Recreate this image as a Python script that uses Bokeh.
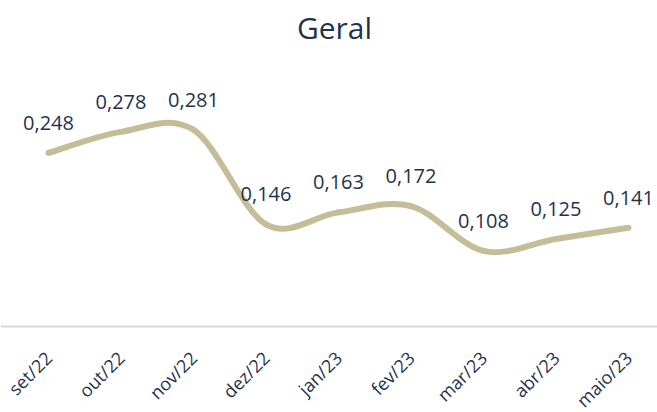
from bokeh.plotting import figure
from bokeh.models import ColumnDataSource, LabelSet, Label, Range1d, Span
from bokeh.core.properties import value
from bokeh.embed import file_html
from bokeh.resources import INLINE
import math

months = ["set/22", "out/22", "nov/22", "dez/22", "jan/23", "fev/23", "mar/23", "abr/23", "maio/23"]
values = [0.248, 0.278, 0.281, 0.146, 0.163, 0.172, 0.108, 0.125, 0.141]
labels = ["0,248", "0,278", "0,281", "0,146", "0,163", "0,172", "0,108", "0,125", "0,141"]

TEXT = "#1f334d"
LINE = "#c5bd97"
FONT = "Open Sans"

xs = list(range(len(months)))

# smooth (Catmull-Rom style) bezier segments built from the data points
n = len(values)
def pt(i):
    i = max(0, min(n - 1, i))
    return xs[i], values[i]

seg = dict(x0=[], y0=[], x1=[], y1=[], cx0=[], cy0=[], cx1=[], cy1=[])
for i in range(n - 1):
    xa, ya = pt(i - 1)
    xb, yb = pt(i)
    xc, yc = pt(i + 1)
    xd, yd = pt(i + 2)
    seg["x0"].append(xb); seg["y0"].append(yb)
    seg["x1"].append(xc); seg["y1"].append(yc)
    seg["cx0"].append(xb + (xc - xa) / 6); seg["cy0"].append(yb + (yc - ya) / 6)
    seg["cx1"].append(xc - (xd - xb) / 6); seg["cy1"].append(yc - (yd - yb) / 6)

p = figure(width=657, height=412, output_backend="svg", toolbar_location=None,
           x_range=Range1d(-0.662, 8.40), y_range=Range1d(-0.1229, 0.4657),
           min_border_left=0, min_border_right=0, min_border_top=0, min_border_bottom=0)
p.outline_line_color = None
p.grid.visible = False
p.xaxis.visible = False
p.yaxis.visible = False
p.background_fill_color = "white"
p.border_fill_color = "white"

# category axis baseline
p.add_layout(Span(location=0, dimension="width", line_color="#d9d9d9", line_width=2))

p.bezier(x0="x0", y0="y0", x1="x1", y1="y1", cx0="cx0", cy0="cy0", cx1="cx1", cy1="cy1",
         source=ColumnDataSource(seg), line_color=LINE, line_width=6, line_cap="round")

src = ColumnDataSource(dict(x=xs, y=values, t=labels, base=[0] * n, m=months))
p.add_layout(LabelSet(x="x", y="y", text="t", source=src, y_offset=30,
                      text_align="center", text_baseline="middle",
                      text_font=value(FONT), text_font_size="20px", text_color=TEXT))

# rotated category labels under the baseline
p.add_layout(LabelSet(x="x", y="base", text="m", source=src, x_offset=5, y_offset=-33,
                      angle=math.pi / 4, text_align="right", text_baseline="alphabetic",
                      text_font=value(FONT), text_font_size="18px", text_color=TEXT))

p.add_layout(Label(x=334, y=385, x_units="screen", y_units="screen", text="Geral",
                   text_align="center", text_baseline="middle",
                   text_font=FONT, text_font_size="30px", text_color=TEXT))

open("out.html", "w").write(file_html(p, INLINE))
